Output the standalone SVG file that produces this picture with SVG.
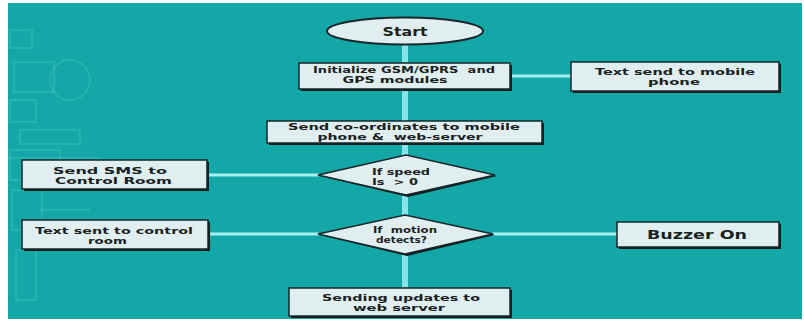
<svg xmlns="http://www.w3.org/2000/svg" width="804" height="321" viewBox="0 0 804 321">
<style>
.bg{fill:#13a8a7}
.deco{fill:none;stroke:#6fd8d2;stroke-opacity:0.22;stroke-width:2}
.vline{stroke:#86e3e7;stroke-width:6;fill:none}
.hline{stroke:#a6eef0;stroke-width:3;fill:none}
.box{fill:#e1eef0;stroke:#16262a;stroke-width:1.5}
.shadow{fill:#101c1e}
.t{font-family:"DejaVu Sans","Liberation Sans",Arial,sans-serif;font-weight:bold;font-size:8.5px;fill:#1a1f22;text-anchor:middle;white-space:pre}
.big{font-size:11.5px}
</style>
<rect x="0" y="0" width="804" height="321" fill="#ffffff"/>
<rect class="bg" x="8" y="3" width="794" height="316"/>
<g id="decoration">
<rect class="deco" x="10" y="30" width="22" height="18"/>
<rect class="deco" x="14" y="62" width="40" height="30"/>
<circle class="deco" cx="70" cy="80" r="20"/>
<rect class="deco" x="10" y="100" width="26" height="22"/>
<rect class="deco" x="20" y="130" width="60" height="14"/>
<rect class="deco" x="10" y="150" width="50" height="30"/>
<line class="deco" x1="8" y1="158" x2="100" y2="158"/>
<rect class="deco" x="12" y="190" width="30" height="40"/>
<line class="deco" x1="40" y1="210" x2="90" y2="210"/>
<rect class="deco" x="16" y="250" width="20" height="50"/>
</g>
<g id="connectors">
<line class="vline" x1="405" y1="44" x2="405" y2="290"/>
<line class="hline" x1="509" y1="76" x2="572" y2="76"/>
<line class="hline" x1="207" y1="175" x2="319" y2="175"/>
<line class="hline" x1="207" y1="234" x2="319" y2="234"/>
<line class="hline" x1="492" y1="234" x2="618" y2="234"/>
</g>
<g id="start">
<ellipse cx="405" cy="31" rx="78" ry="13.5" fill="#e1eef0" stroke="#16262a" stroke-width="2"/>
<text class="t big" x="405" y="35.5" textLength="45" lengthAdjust="spacingAndGlyphs">Start</text>
</g>
<g id="init">
<rect class="shadow" x="301" y="65" width="211" height="26"/>
<rect class="box" x="299" y="63" width="211" height="26"/>
<text class="t" x="404" y="73" textLength="182" lengthAdjust="spacingAndGlyphs">Initialize GSM/GPRS  and</text>
<text class="t" x="395" y="83" textLength="105" lengthAdjust="spacingAndGlyphs">GPS modules</text>
</g>
<g id="textmobile">
<rect class="shadow" x="573" y="64" width="208" height="29"/>
<rect class="box" x="571" y="62" width="208" height="29"/>
<text class="t" x="675" y="75" textLength="160" lengthAdjust="spacingAndGlyphs">Text send to mobile</text>
<text class="t" x="674" y="85" textLength="52" lengthAdjust="spacingAndGlyphs">phone</text>
</g>
<g id="sendcoord">
<rect class="shadow" x="269" y="123" width="275" height="22"/>
<rect class="box" x="267" y="121" width="275" height="22"/>
<text class="t" x="404" y="129.5" textLength="232" lengthAdjust="spacingAndGlyphs">Send co-ordinates to mobile</text>
<text class="t" x="400" y="139.5" textLength="165" lengthAdjust="spacingAndGlyphs">phone &amp;  web-server</text>
</g>
<g id="speed">
<polygon points="320,176 408,157 497,176 408,197" fill="#101c1e"/>
<polygon points="318,175 406,155 495,175 406,195" fill="#e1eef0" stroke="#16262a" stroke-width="1.5"/>
<text class="t" x="401" y="174.5" textLength="58" lengthAdjust="spacingAndGlyphs">If speed</text>
<text class="t" x="395" y="184.5" textLength="46" lengthAdjust="spacingAndGlyphs">Is  &gt; 0</text>
</g>
<g id="sms">
<rect class="shadow" x="24" y="162" width="185" height="29"/>
<rect class="box" x="22" y="160" width="185" height="29"/>
<text class="t" x="110" y="173.5" textLength="114" lengthAdjust="spacingAndGlyphs">Send SMS to</text>
<text class="t" x="113.5" y="183.5" textLength="117" lengthAdjust="spacingAndGlyphs">Control Room</text>
</g>
<g id="motion">
<polygon points="320,235 407,217 495,235 407,256" fill="#101c1e"/>
<polygon points="318,234 405,215 493,234 405,254" fill="#e1eef0" stroke="#16262a" stroke-width="1.5"/>
<text class="t" x="405" y="233" textLength="64" lengthAdjust="spacingAndGlyphs">If  motion</text>
<text class="t" x="401.5" y="243" textLength="51" lengthAdjust="spacingAndGlyphs">detects?</text>
</g>
<g id="textcontrol">
<rect class="shadow" x="24" y="222" width="186" height="29"/>
<rect class="box" x="22" y="220" width="186" height="29"/>
<text class="t" x="114" y="233.5" textLength="158" lengthAdjust="spacingAndGlyphs">Text sent to control</text>
<text class="t" x="107.5" y="243.5" textLength="39" lengthAdjust="spacingAndGlyphs">room</text>
</g>
<g id="buzzer">
<rect class="shadow" x="619" y="224" width="162" height="25"/>
<rect class="box" x="617" y="222" width="162" height="25"/>
<text class="t big" x="697" y="238.5" textLength="100" lengthAdjust="spacingAndGlyphs">Buzzer On</text>
</g>
<g id="updates">
<rect class="shadow" x="291" y="290" width="221" height="28"/>
<rect class="box" x="289" y="288" width="221" height="28"/>
<text class="t" x="401" y="300.5" textLength="158" lengthAdjust="spacingAndGlyphs">Sending updates to</text>
<text class="t" x="399" y="310.5" textLength="92" lengthAdjust="spacingAndGlyphs">web server</text>
</g>
</svg>
